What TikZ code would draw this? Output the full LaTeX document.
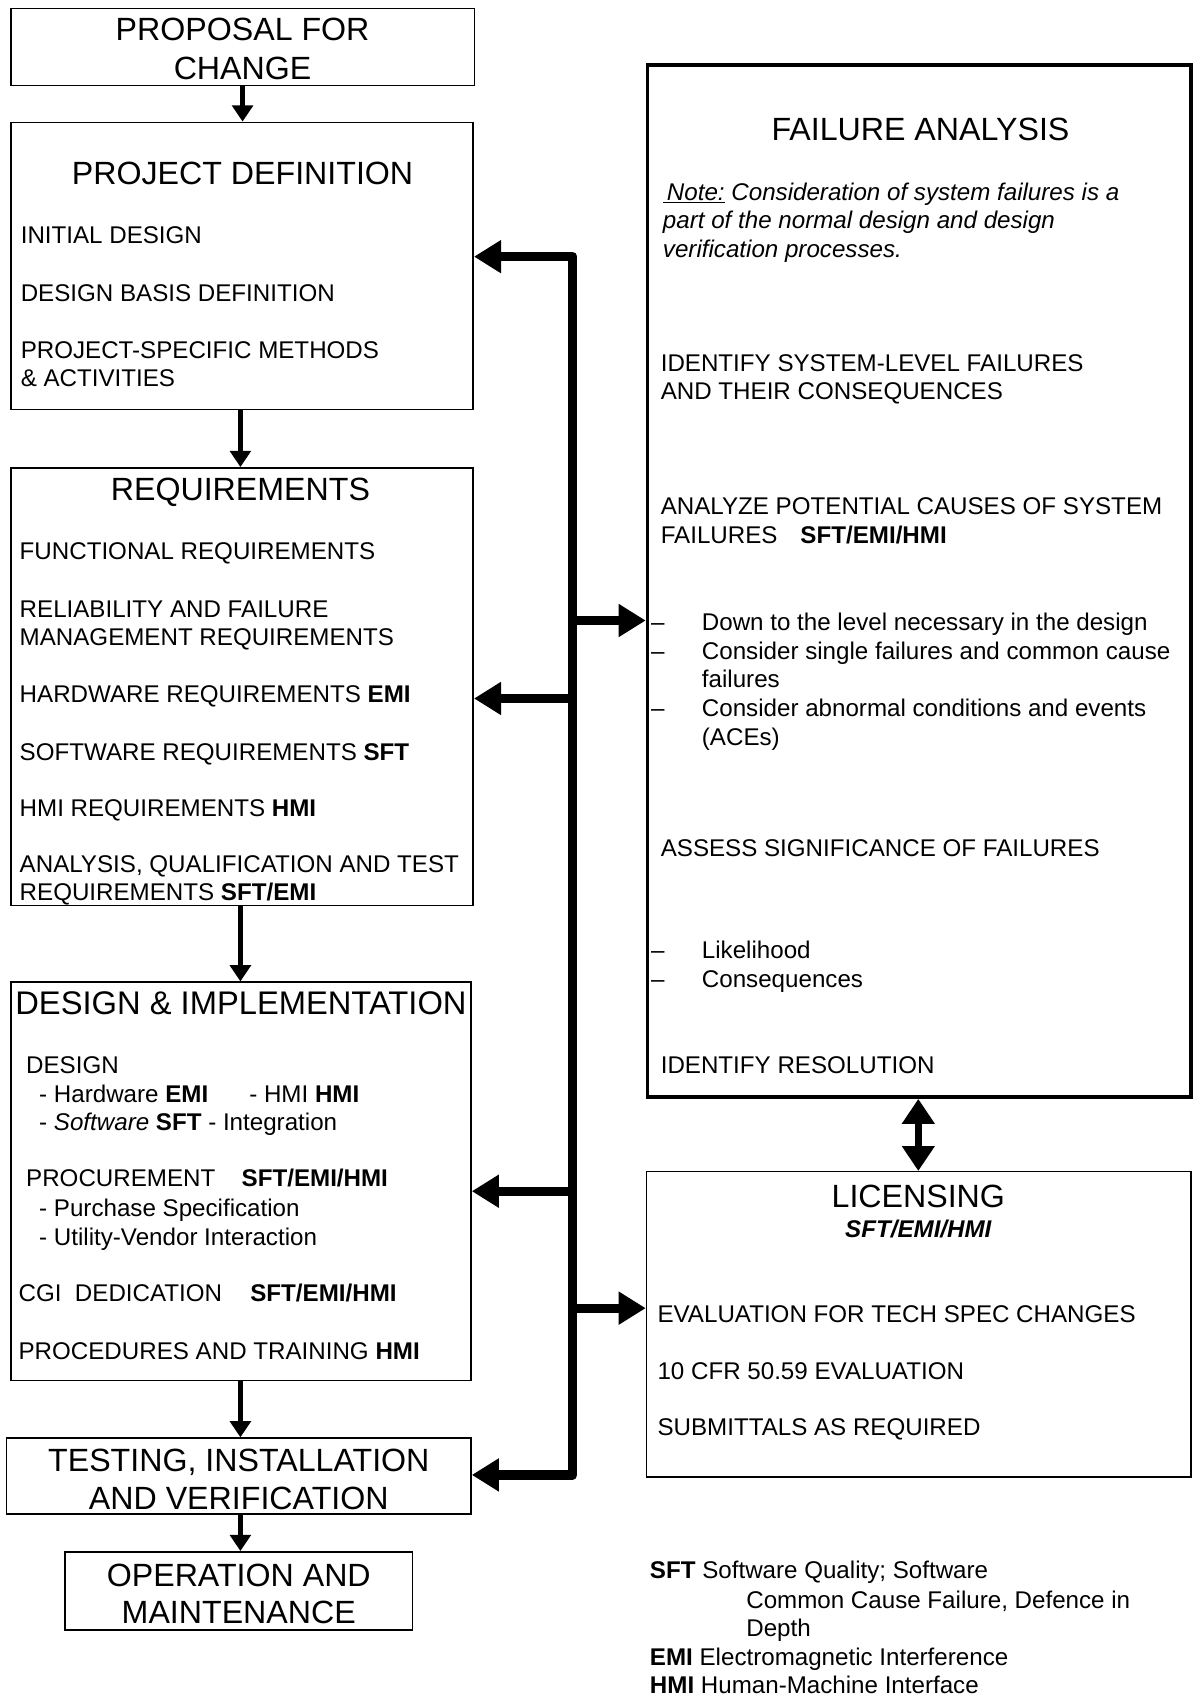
\documentclass[tikz,border=0pt]{standalone}
\usepackage{fontspec}
\setmainfont{Liberation Sans}
\usetikzlibrary{arrows.meta,fit}

\newcommand\bodyfont{\fontsize{22.3}{26.5}\selectfont}
\newcommand\titlefont{\fontsize{29.7}{35.5}\selectfont}

\tikzset{
  box/.style={draw, line width=1.4pt, inner sep=0pt},
  heavybox/.style={draw, line width=3.5pt, inner sep=0pt},
  body/.style={anchor=base west, inner sep=0pt, font=\bodyfont},
  head/.style={anchor=base, inner sep=0pt, font=\titlefont},
  flow/.style={line width=4.6pt, -{Triangle[length=15pt,width=19pt]}},
  bus/.style={line width=8.5pt, line join=round},
  busarrow/.style={bus, -{Triangle[length=25pt,width=29pt]}},
  bothways/.style={line width=7pt, {Triangle[length=23pt,width=29pt]}-{Triangle[length=23pt,width=29pt]}}
}

\begin{document}
\begin{tikzpicture}[x=1pt,y=-1pt]
\useasboundingbox[fill=white] (0,0) rectangle (1102,1568);

% ---------- left column: process boxes ----------
\node[box, fit={(10,8) (438,79)}] (pp) {};
\node[box, fit={(10,113) (437,378)}] (pd) {};
\node[box, fit={(10,432) (437,836)}] (rq) {};
\node[box, fit={(10,907) (435,1275)}] (di) {};
\node[box, fit={(6,1328) (435,1398)}] (tv) {};
\node[box, fit={(60,1433) (381,1505)}] (om) {};

% ---------- right column ----------
\node[heavybox, fit={(598,60) (1099.5,1013)}] (fa) {};
\node[box, fit={(597,1082) (1100,1364)}] (lic) {};

% proposal
\node[head] (pp1) at (224,37.6) {PROPOSAL FOR};
\node[head] (pp2) at (224,73.6) {CHANGE};

% project definition
\node[head] (pdt) at (224,170.6) {PROJECT DEFINITION};
\node[body] (pd1) at (19,225) {INITIAL DESIGN};
\node[body] (pd2) at (19,278) {DESIGN BASIS DEFINITION};
\node[body] (pd3) at (19,331) {PROJECT-SPECIFIC METHODS};
\node[body] (pd4) at (19,357) {\& ACTIVITIES};

% requirements
\node[head] (rqt) at (222,462.6) {REQUIREMENTS};
\node[body] (rq1) at (18,517) {FUNCTIONAL REQUIREMENTS};
\node[body] (rq2) at (18,570) {RELIABILITY AND FAILURE};
\node[body] (rq3) at (18,596) {MANAGEMENT REQUIREMENTS};
\node[body] (rq4) at (18,649) {HARDWARE REQUIREMENTS \textbf{EMI}};
\node[body] (rq5) at (18,702) {SOFTWARE REQUIREMENTS \textbf{SFT}};
\node[body] (rq6) at (18,754) {HMI REQUIREMENTS \textbf{HMI}};
\node[body] (rq7) at (18,806) {ANALYSIS, QUALIFICATION AND TEST};
\node[body] (rq8) at (18,832) {REQUIREMENTS \textbf{SFT/EMI}};

% design and implementation
\node[head, font=\fontsize{30.2}{35.5}\selectfont] (dit) at (222.5,937) {DESIGN \& IMPLEMENTATION};
\node[body] (di1) at (24,991) {DESIGN};
\node[body] (di2) at (36,1018) {- Hardware \textbf{EMI}};
\node[body] (di3) at (230,1018) {- HMI \textbf{HMI}};
\node[body] (di4) at (36,1044) {- \textit{Software} \textbf{SFT} - Integration};
\node[body] (di5) at (24,1096) {PROCUREMENT};
\node[body] (di5b) at (223,1096) {\textbf{SFT/EMI/HMI}};
\node[body] (di6) at (36,1123) {- Purchase Specification};
\node[body] (di7) at (36,1150) {- Utility-Vendor Interaction};
\node[body] (di8) at (17,1202) {CGI\ \ DEDICATION};
\node[body] (di8b) at (231,1202) {\textbf{SFT/EMI/HMI}};
\node[body] (di9) at (17,1255) {PROCEDURES AND TRAINING \textbf{HMI}};

% testing, operation
\node[head] (tv1) at (220.5,1358.6) {TESTING, INSTALLATION};
\node[head] (tv2) at (220.5,1393.6) {AND VERIFICATION};
\node[head] (om1) at (220.5,1464.6) {OPERATION AND};
\node[head] (om2) at (220.5,1499.6) {MAINTENANCE};

% failure analysis
\node[head] (fat) at (850,129.6) {FAILURE ANALYSIS};
\node[body] (fa1) at (612,185) {\itshape\underline{\,Note:} Consideration of system failures is a};
\node[body] (fa2) at (612,211) {\itshape part of the normal design and design};
\node[body] (fa3) at (612,238) {\itshape verification processes.};
\node[body] (fa4) at (610,343) {IDENTIFY SYSTEM-LEVEL FAILURES};
\node[body] (fa5) at (610,369) {AND THEIR CONSEQUENCES};
\node[body] (fa6) at (610,475) {ANALYZE POTENTIAL CAUSES OF SYSTEM};
\node[body] (fa7) at (610,502) {FAILURES};
\node[body] (fa7b) at (739,502) {\textbf{SFT/EMI/HMI}};
\foreach \n/\y in {d1/582, d2/609, d3/662, d4/885, d5/912}
  \node[body] (fa\n) at (601,\y) {--};
\node[body] (fb1) at (648,582) {Down to the level necessary in the design};
\node[body] (fb2) at (648,609) {Consider single failures and common cause};
\node[body] (fb3) at (648,635) {failures};
\node[body] (fb4) at (648,662) {Consider abnormal conditions and events};
\node[body] (fb5) at (648,688) {(ACEs)};
\node[body] (fa8) at (610,791) {ASSESS SIGNIFICANCE OF FAILURES};
\node[body] (fb6) at (648,885) {Likelihood};
\node[body] (fb7) at (648,912) {Consequences};
\node[body] (fa9) at (610,991) {IDENTIFY RESOLUTION};

% licensing
\node[head] (lict) at (848,1114.6) {LICENSING};
\node[body, anchor=base] (lic0) at (848,1143) {\bfseries\itshape SFT/EMI/HMI};
\node[body] (lic1) at (607,1221) {EVALUATION FOR TECH SPEC CHANGES};
\node[body] (lic2) at (607,1274) {10 CFR 50.59 EVALUATION};
\node[body] (lic3) at (607,1326) {SUBMITTALS AS REQUIRED};

% legend
\node[body] (lg1) at (600,1458) {\textbf{SFT} Software Quality; Software};
\node[body] (lg2) at (689,1485) {Common Cause Failure, Defence in};
\node[body] (lg3) at (689,1511) {Depth};
\node[body] (lg4) at (600,1538) {\textbf{EMI} Electromagnetic Interference};
\node[body] (lg5) at (600,1564) {\textbf{HMI} Human-Machine Interface};

% ---------- main flow ----------
\draw[flow] (pp.south) -- (pp.south |- pd.north);
\draw[flow] (pd.south -| rqt) -- (rqt |- rq.north);
\draw[flow] (rq.south -| rqt) -- (rqt |- di.north);
\draw[flow] (di.south -| rqt) -- (rqt |- tv.north);
\draw[flow] (tv.south -| rqt) -- (rqt |- om.north);

% ---------- feedback bus ----------
\coordinate (bt) at (529,237);
\coordinate (bb) at (529,1362);
\coordinate (brq) at (529,645);
\coordinate (bdi) at (529,1100);
\coordinate (bfa) at (529,573);
\coordinate (blic) at (529,1208);
\draw[bus, {Triangle[length=25pt,width=29pt]}-{Triangle[length=25pt,width=29pt]}]
  (pd.east |- bt) -- (bt) -- (bb) -- (tv.east |- bb);
\draw[busarrow] (brq) -- (rq.east |- brq);
\draw[busarrow] (bdi) -- (di.east |- bdi);
\draw[busarrow] (bfa) -- (fa.west |- bfa);
\draw[busarrow] (blic) -- (lic.west |- blic);

% failure analysis <-> licensing
\draw[bothways] (fa.south -| lict) -- (lict |- lic.north);
\end{tikzpicture}
\end{document}
